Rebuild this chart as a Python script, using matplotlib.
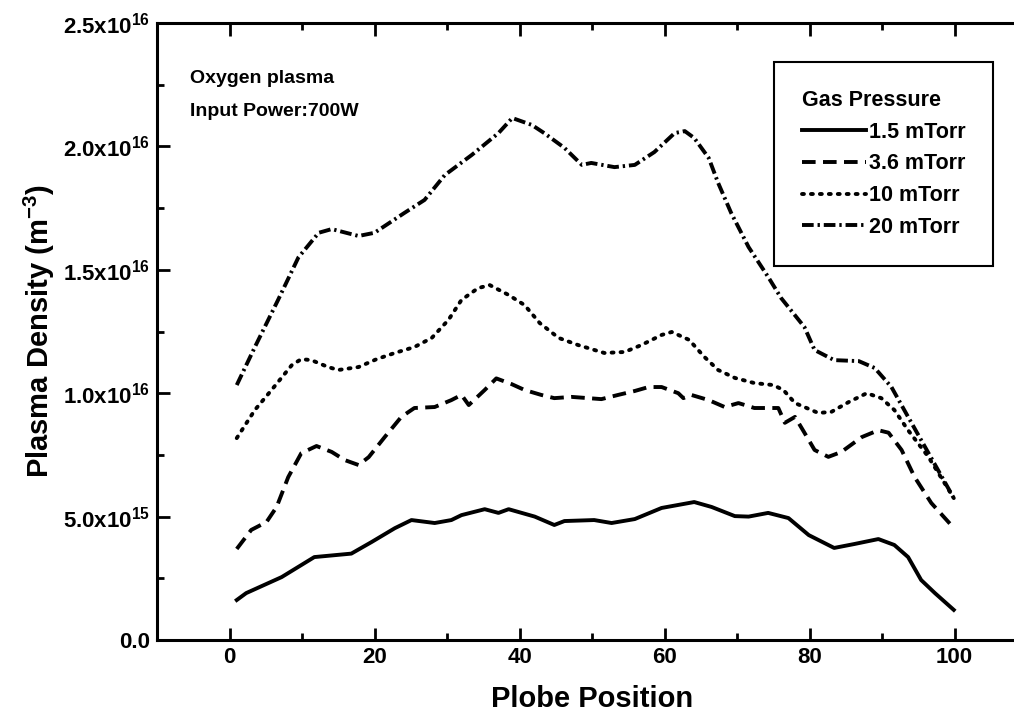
import numpy as np
import matplotlib
matplotlib.use('Agg')
import matplotlib.pyplot as plt
from matplotlib.ticker import MultipleLocator

plt.rcParams['font.family'] = ['Liberation Sans', 'DejaVu Sans']
plt.rcParams['font.weight'] = 'bold'
plt.rcParams['mathtext.fontset'] = 'custom'
plt.rcParams['mathtext.rm'] = 'Liberation Sans:bold'
plt.rcParams['mathtext.bf'] = 'Liberation Sans:bold'

# data (density in units of 1e15 m^-3)
x_15 = [1, 2.3, 7.2, 11.7, 16.8, 19.6, 22.8, 25.1, 28.3, 30.6, 32, 35.2, 37.1, 38.5, 42.1, 44.8,
        46.2, 50.3, 52.7, 55.9, 59.6, 64.1, 66.5, 69.7, 71.6, 74.3, 77.1, 79.9, 83.4, 86.2,
        89.5, 91.7, 93.6, 95.4, 97.3, 99.9]
y_15 = [1.62, 1.9, 2.55, 3.36, 3.5, 3.97, 4.53, 4.86, 4.74, 4.86, 5.06, 5.3, 5.15, 5.3, 5.0, 4.66,
        4.82, 4.86, 4.74, 4.9, 5.35, 5.59, 5.39, 5.02, 5.0, 5.15, 4.94, 4.25, 3.73, 3.89,
        4.09, 3.85, 3.36, 2.43, 1.9, 1.22]

x_36 = [1, 3, 5.1, 6.5, 8.1, 9.9, 12, 14.1, 15.9, 17.8, 19.2, 21.4, 23.7, 25.5, 28.3, 30.6, 32,
        33, 35.2, 36.8, 38.9, 40.7, 43, 44.8, 47.2, 51.3, 53.6, 55.9, 57.8, 59.6, 61.9, 62.6,
        63.7, 66.1, 68.3, 70.2, 72.4, 75.7, 76.6, 78, 79.3, 80.7, 82.6, 84.4, 87.2, 89.5,
        90.9, 92.7, 94.5, 96.8, 99.9]
y_36 = [3.69, 4.46, 4.78, 5.39, 6.6, 7.57, 7.86, 7.62, 7.29, 7.09, 7.41, 8.22, 9.04, 9.4, 9.44,
        9.72, 9.93, 9.52, 10.13, 10.6, 10.37, 10.13, 9.93, 9.8, 9.85, 9.76, 9.93, 10.09, 10.25,
        10.25, 10.0, 9.8, 9.93, 9.72, 9.44, 9.6, 9.4, 9.4, 8.8, 9.04, 8.4, 7.7, 7.42, 7.62,
        8.22, 8.5, 8.4, 7.7, 6.6, 5.55, 4.54]

x_10 = [1, 3.5, 5.8, 8.6, 9.9, 11.3, 13.6, 15, 17.8, 20.3, 22.8, 25.5, 27.9, 30.2, 32, 34.3,
        35.9, 38.5, 40.7, 42.8, 45.4, 48.1, 51.7, 54.5, 56.8, 59.6, 61, 63.4, 65.5, 67.4,
        69.7, 72.4, 75, 76.4, 78, 81.2, 83, 85.4, 87.9, 89.9, 91.7, 93.6, 96.4, 99.9]
y_10 = [8.18, 9.32, 10.13, 11.14, 11.38, 11.34, 11.06, 10.94, 11.06, 11.38, 11.63, 11.87, 12.24,
        12.97, 13.78, 14.26, 14.38, 13.98, 13.57, 12.84, 12.24, 11.95, 11.63, 11.67, 11.95,
        12.36, 12.48, 12.16, 11.47, 10.94, 10.62, 10.41, 10.33, 10.13, 9.6, 9.2, 9.24, 9.64,
        10.0, 9.8, 9.32, 8.5, 7.42, 5.75]

x_20 = [1, 3.5, 6.7, 9.5, 12.3, 14.1, 17.8, 20, 24.1, 26.9, 29.7, 33.4, 37.1, 39, 41.7, 43.4,
        46.2, 48.6, 49.9, 53.1, 55.9, 58.6, 61.4, 62.8, 64.1, 66.1, 67.4, 69.2, 71.6, 74.3,
        76.1, 79.3, 80.7, 83.4, 86.8, 89, 91.3, 93.6, 96.4, 99.9]
y_20 = [10.33, 11.87, 13.78, 15.5, 16.5, 16.65, 16.37, 16.5, 17.3, 17.83, 18.84, 19.65, 20.54,
        21.15, 20.87, 20.54, 19.94, 19.25, 19.33, 19.16, 19.25, 19.77, 20.54, 20.62, 20.34,
        19.53, 18.52, 17.3, 15.92, 14.71, 13.85, 12.68, 11.75, 11.34, 11.3, 11.02, 10.25,
        9.04, 7.58, 5.75]

labels = ['1.5 mTorr', '3.6 mTorr', '10 mTorr', '20 mTorr']
ytick_vals = [0, 5e15, 1e16, 1.5e16, 2e16, 2.5e16]
ytick_labels = ['0.0', r'5.0x10$^{15}$', r'1.0x10$^{16}$', r'1.5x10$^{16}$',
                r'2.0x10$^{16}$', r'2.5x10$^{16}$']

fig = plt.figure(figsize=(10.14, 7.15), dpi=100)
ax = fig.add_axes([157/1014, 75/715, 870/1014, 617/715])

lw = 2.8
ax.plot(x_15, np.array(y_15)*1e15, color='black', lw=lw, ls='-', label=labels[0])
ax.plot(x_36, np.array(y_36)*1e15, color='black', lw=lw, ls=(0, (3.5, 1.9)), label=labels[1])
ax.plot(x_10, np.array(y_10)*1e15, color='black', lw=lw, ls=(0, (0.5, 1.8)),
        dash_capstyle='round', label=labels[2])
ax.plot(x_20, np.array(y_20)*1e15, color='black', lw=lw, ls=(0, (3.0, 1.0, 0.6, 1.0)),
        label=labels[3])

ax.set_xlim(-10, 110)
ax.set_ylim(0, 2.5e16)
ax.xaxis.set_major_locator(MultipleLocator(20))
ax.xaxis.set_minor_locator(MultipleLocator(10))
ax.set_yticks(ytick_vals)
ax.set_yticklabels(ytick_labels)
ax.yaxis.set_minor_locator(MultipleLocator(2.5e15))
ax.tick_params(which='both', direction='in', top=True, right=True, width=2, labelsize=16)
ax.tick_params(which='major', length=9, pad=5)
ax.tick_params(which='minor', length=5)
for s in ax.spines.values():
    s.set_linewidth(2.2)

ax.set_xlabel('Plobe Position', fontsize=21, fontweight='bold', labelpad=12)
ax.set_ylabel(r'Plasma Density (m$^{-3}$)', fontsize=21, fontweight='bold', labelpad=4)

ax.text(0.038, 0.902, 'Oxygen plasma', transform=ax.transAxes, fontsize=14)
ax.text(0.038, 0.850, 'Input Power:700W', transform=ax.transAxes, fontsize=14)

leg = ax.legend(title='Gas Pressure', loc='upper left', bbox_to_anchor=(0.709, 0.937),
                borderaxespad=0, fancybox=False, edgecolor='black', framealpha=1,
                fontsize=15.5, title_fontsize=15.5, handlelength=3.0, handletextpad=0.1,
                labelspacing=0.5, borderpad=1.3, alignment='left')
leg.get_frame().set_linewidth(1.5)
leg.get_title().set_fontweight('bold')

fig.savefig('out.png', dpi=100)
